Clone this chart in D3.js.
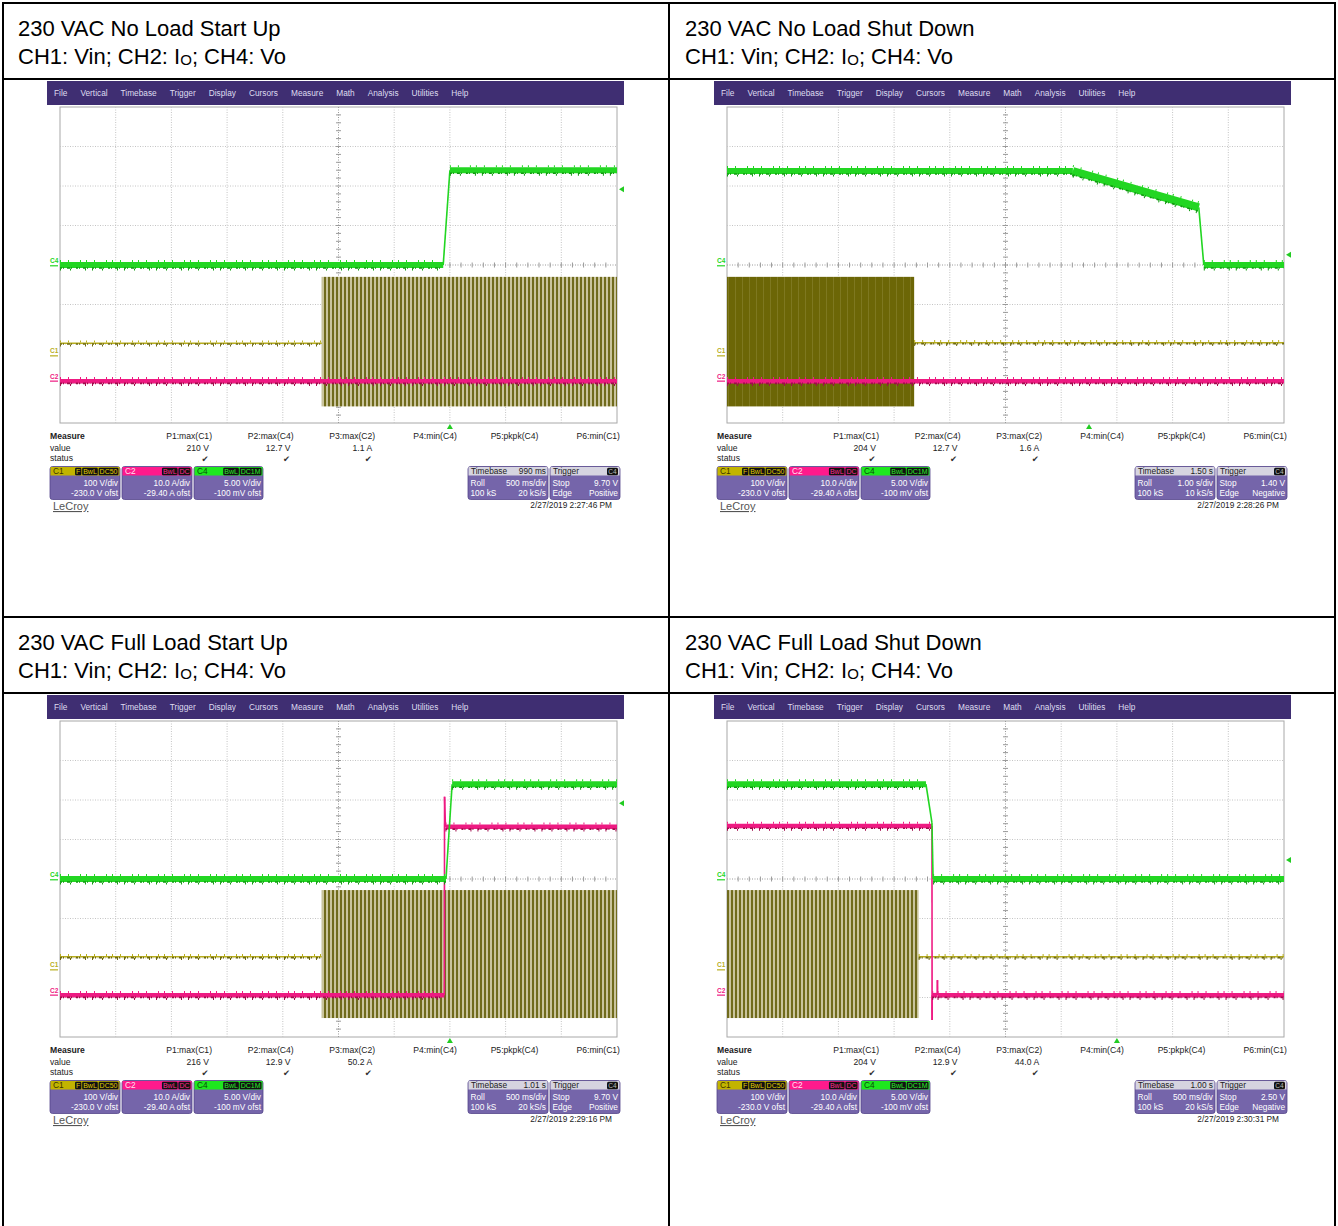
<!DOCTYPE html>
<html>
<head>
<meta charset="utf-8">
<script src="https://cdn.jsdelivr.net/npm/d3@7"></script>
<style>
body { margin:0; background:#fff; }
svg { display:block; font-family:"Liberation Sans", Arial, sans-serif; }
</style>
</head>
<body>
<svg id="chart" width="1338" height="1226"></svg>
<script>
// ---- data read from the four scope shots ----
var titles = ["230 VAC No Load Start Up", "230 VAC No Load Shut Down",
              "230 VAC Full Load Start Up", "230 VAC Full Load Shut Down"];
var menuItems = ["File","Vertical","Timebase","Trigger","Display","Cursors","Measure","Math","Analysis","Utilities","Help"];

var timeDiv = [0.5, 1.0, 0.5, 0.5];           // s/div
var chName = ["C1","C2","C4"];
var chVdiv = [100, 10, 5];
var chOfst = [-230, -29.4, -0.1];
var chDivText = ["100 V/div","10.0 A/div","5.00 V/div"];
var chOfstText = ["-230.0 V ofst","-29.40 A ofst","-100 mV ofst"];
var chTags = [["F","BwL","DC50"],["BwL","DC"],["BwL","DC1M"]];

// C4 output voltage (s, V)
var c4Time = [[0, 3.44, 3.50, 5.0], [0, 6.21, 8.47, 8.56, 10], [0, 3.465, 3.52, 5.0], [0, 1.786, 1.84, 1.85, 5.0]];
var c4Volt = [[0.1, 0.1, 12.1, 12.1], [12.0, 12.0, 7.4, 0.1, 0.1], [0.1, 0.1, 12.1, 12.1], [12.1, 12.1, 7.2, 0.1, 0.1]];
// C2 output current (s, A)
var c2Time = [[0, 5.0], [0, 10], [0, 3.45, 3.452, 3.46, 5.0], [0, 1.84, 1.841, 1.842, 1.888, 1.889, 1.89, 5.0]];
var c2Amp  = [[0, 0], [0, 0], [0, 0, 50.2, 42.6, 42.6], [42.8, 42.8, -6.3, 0, 0, 3.8, 0, 0]];
// C1 input voltage: flat part (s, V) and AC burst envelope
var c1Time = [[0, 2.35], [3.36, 10], [0, 2.35], [1.72, 5.0]];
var c1Volt = [[32, 32], [33, 33], [33, 33], [33, 33]];
var burstStart = [2.35, 0, 2.35, 0];
var burstEnd   = [5.0, 3.36, 5.0, 1.72];
var burstMax   = [200, 200, 202, 202];
var burstMin   = [-128, -128, -122, -122];

var measNames = ["P1:max(C1)","P2:max(C4)","P3:max(C2)","P4:min(C4)","P5:pkpk(C4)","P6:min(C1)"];
var measP1 = ["210 V","204 V","216 V","204 V"];
var measP2 = ["12.7 V","12.7 V","12.9 V","12.9 V"];
var measP3 = ["1.1 A","1.6 A","50.2 A","44.0 A"];

var tbDelay = ["990 ms","1.50 s","1.01 s","1.00 s"];
var tbDivText = ["500 ms/div","1.00 s/div","500 ms/div","500 ms/div"];
var tbRate = ["20 kS/s","10 kS/s","20 kS/s","20 kS/s"];
var trigLevel = [9.70, 1.40, 9.70, 2.50];
var trigLevelText = ["9.70 V","1.40 V","9.70 V","2.50 V"];
var trigSlope = ["Positive","Negative","Positive","Negative"];
var trigTime = [3.5, 6.5, 3.5, 3.5];
var stamps = ["2/27/2019 2:27:46 PM","2/27/2019 2:28:26 PM","2/27/2019 2:29:16 PM","2/27/2019 2:30:31 PM"];

// ---- layout ----
var svg = d3.select("#chart");
var colW = 667, rowH = 614;
var gx0 = 60, gx1 = 617, gy0 = 107, gy1 = 423;
var chColor = ["#b8ae1e", "#ee1a82", "#22d622"];
var chDark = ["#6e6a10", "#a00c4c", "#0f9a0f"];
var chHead = ["#c2b400", "#ff1a8c", "#1ee81e"];

var defs = svg.append("defs");
var pat = defs.append("pattern").attr("id","stripes").attr("patternUnits","userSpaceOnUse")
    .attr("width",4).attr("height",12);
pat.append("rect").attr("width",4).attr("height",12).attr("fill","#c9c49c");
pat.append("rect").attr("width",2).attr("height",12).attr("fill","#706b1c");
var pat2 = defs.append("pattern").attr("id","dense").attr("patternUnits","userSpaceOnUse")
    .attr("width",7).attr("height",12);
pat2.append("rect").attr("width",7).attr("height",12).attr("fill","#6c6606");
pat2.append("rect").attr("x",5).attr("width",0.6).attr("height",12).attr("fill","#8a8430");

// table
var tbl = svg.append("g").attr("stroke","#000").attr("stroke-width",2);
[3, 669, 1335].forEach(function(x){ tbl.append("line").attr("x1",x).attr("x2",x).attr("y1",2).attr("y2",1226); });
[3, 79, 617, 693].forEach(function(y){ tbl.append("line").attr("x1",2).attr("x2",1336).attr("y1",y).attr("y2",y); });

titles.forEach(function(title, i){
  var ox = (i % 2) * colW, oy = Math.floor(i / 2) * rowH;
  var g = svg.append("g").attr("transform", `translate(${ox},${oy})`);

  g.append("text").attr("x",18).attr("y",36).attr("font-size",22).text(title);
  var sub = g.append("text").attr("x",18).attr("y",64).attr("font-size",22);
  sub.append("tspan").text("CH1: Vin; CH2: I");
  sub.append("tspan").attr("font-size",15).attr("dy",1).text("O");
  sub.append("tspan").attr("dy",-1).text("; CH4: Vo");

  // menu bar
  g.append("rect").attr("x",47).attr("y",81).attr("width",577).attr("height",24).attr("fill","#3f2e72");
  var mx = 54;
  menuItems.forEach(function(m){
    var t = g.append("text").attr("x",mx).attr("y",96).attr("font-size",8.3).attr("fill","#dedcf0").text(m);
    mx += t.node().getComputedTextLength() + 13;
  });

  // scales
  var x = d3.scaleLinear().domain([0, 10 * timeDiv[i]]).range([gx0, gx1]);
  var ys = chVdiv.map(function(vd, k){
    return d3.scaleLinear().domain([-4 * vd - chOfst[k], 4 * vd - chOfst[k]]).range([gy1, gy0]);
  });
  var yDiv = d3.scaleLinear().domain([0, 8]).range([gy0, gy1]);

  // grid
  var grid = g.append("g");
  grid.append("rect").attr("x",gx0).attr("y",gy0).attr("width",gx1-gx0).attr("height",gy1-gy0)
      .attr("fill","#fff").attr("stroke","#a8a8a8");
  d3.range(1,10).forEach(function(k){
    var xx = gx0 + k * (gx1 - gx0) / 10;
    grid.append("line").attr("x1",xx).attr("x2",xx).attr("y1",gy0).attr("y2",gy1)
      .attr("stroke", k == 5 ? "#9a9a9a" : "#c4c4c4").attr("stroke-dasharray","1,1.5");
  });
  d3.range(1,8).forEach(function(k){
    grid.append("line").attr("x1",gx0).attr("x2",gx1).attr("y1",yDiv(k)).attr("y2",yDiv(k))
      .attr("stroke", k == 4 ? "#9a9a9a" : "#c4c4c4").attr("stroke-dasharray","1,1.5");
  });
  var cx = (gx0 + gx1) / 2, cy = yDiv(4);
  d3.range(1,50).forEach(function(k){
    var xx = gx0 + k * (gx1 - gx0) / 50;
    grid.append("line").attr("x1",xx).attr("x2",xx).attr("y1",cy-2.5).attr("y2",cy+2.5).attr("stroke","#9a9a9a");
  });
  d3.range(1,40).forEach(function(k){
    var yy = gy0 + k * (gy1 - gy0) / 40;
    grid.append("line").attr("x1",cx-2.5).attr("x2",cx+2.5).attr("y1",yy).attr("y2",yy).attr("stroke","#9a9a9a");
  });

  var clipId = "clip" + i;
  defs.append("clipPath").attr("id",clipId).append("rect")
    .attr("x",ox+gx0).attr("y",oy+gy0-4).attr("width",gx1-gx0).attr("height",gy1-gy0+8);
  var tr = svg.append("g").attr("clip-path",`url(#${clipId})`).append("g").attr("transform",`translate(${ox},${oy})`);

  // C1 burst
  tr.append("rect").attr("x",x(burstStart[i])).attr("width",x(burstEnd[i]) - x(burstStart[i]))
    .attr("y",ys[0](burstMax[i])).attr("height",ys[0](burstMin[i]) - ys[0](burstMax[i]))
    .attr("fill", timeDiv[i] >= 1 ? "url(#dense)" : "url(#stripes)");

  function trace(ts, vs, y, k, bw){
    for (var j = 0; j < ts.length - 1; j++){
      var x1 = x(ts[j]), x2 = x(ts[j+1]), y1 = y(vs[j]), y2 = y(vs[j+1]);
      if (Math.abs(y2 - y1) > 2 * Math.abs(x2 - x1)){
        tr.append("line").attr("x1",x1).attr("x2",x2).attr("y1",y1).attr("y2",y2)
          .attr("stroke",chColor[k]).attr("stroke-width",1.6);
      } else {
        var w = bw + (Math.abs(y2 - y1) > 3 ? 2 : 0);
        tr.append("line").attr("x1",x1).attr("x2",x2).attr("y1",y1).attr("y2",y2)
          .attr("stroke",chColor[k]).attr("stroke-width",w);
        tr.append("line").attr("x1",x1).attr("x2",x2).attr("y1",y1+w/2).attr("y2",y2+w/2)
          .attr("stroke",chDark[k]).attr("stroke-width",1.6).attr("stroke-dasharray","2,1,1,3,3,1,1,4");
        tr.append("line").attr("x1",x1).attr("x2",x2).attr("y1",y1+w/2+1.5).attr("y2",y2+w/2+1.5)
          .attr("stroke",chDark[k]).attr("stroke-width",2).attr("stroke-dasharray","1,9,1,14,1,6");
        tr.append("line").attr("x1",x1).attr("x2",x2).attr("y1",y1-w/2-1).attr("y2",y2-w/2-1)
          .attr("stroke",chColor[k]).attr("stroke-width",2).attr("stroke-dasharray","1,7,1,11,1,5");
      }
    }
  }
  trace(c1Time[i], c1Volt[i], ys[0], 0, 1.6);
  trace(c2Time[i], c2Amp[i], ys[1], 1, 4.5);
  trace(c4Time[i], c4Volt[i], ys[2], 2, 6);

  // channel ground labels
  [0,1,2].forEach(function(k){
    var y0 = ys[k](0);
    g.append("text").attr("x",50).attr("y",y0-2.5).attr("font-size",6.5).attr("font-weight","bold")
      .attr("fill",chColor[k]).text(chName[k]);
    g.append("line").attr("x1",50).attr("x2",58).attr("y1",y0).attr("y2",y0).attr("stroke",chColor[k]).attr("stroke-width",1.2);
  });
  // trigger markers
  var ty = ys[2](trigLevel[i]);
  g.append("path").attr("d",`M${gx1+2},${ty} l5,-3 l0,6 z`).attr("fill","#22cc22");
  var tx = x(trigTime[i]);
  g.append("path").attr("d",`M${tx},${gy1+1} l-3,5 l6,0 z`).attr("fill","#22cc22");

  // measure table
  var mt = g.append("g").attr("font-size",8.6).attr("fill","#222");
  mt.append("text").attr("x",50).attr("y",439).attr("font-weight","bold").text("Measure");
  mt.append("text").attr("x",50).attr("y",451).text("value");
  mt.append("text").attr("x",50).attr("y",461).text("status");
  var vals = [measP1[i], measP2[i], measP3[i]];
  measNames.forEach(function(n, k){
    var rx = 212 + k * 81.6;
    mt.append("text").attr("x",rx).attr("y",439).attr("text-anchor","end").text(n);
    if (k < 3){
      mt.append("text").attr("x",rx-3).attr("y",451).attr("text-anchor","end").text(vals[k]);
      mt.append("text").attr("x",rx-7).attr("y",462).attr("text-anchor","middle")
        .attr("font-family","DejaVu Sans").attr("font-size",8.5).attr("fill","#333").text("\u2714");
    }
  });

  function box(bx, bw, head, headText, headFill, right, rows){
    var b = g.append("g");
    b.append("rect").attr("x",bx).attr("y",466.5).attr("width",bw).attr("height",33).attr("rx",2.5)
      .attr("fill","#7565aa").attr("stroke","#54458a").attr("stroke-width",0.8);
    b.append("rect").attr("x",bx+0.5).attr("y",467).attr("width",bw-1).attr("height",8.5).attr("fill",head);
    b.append("text").attr("x",bx+3).attr("y",474.3).attr("font-size",8.3).attr("fill",headFill).text(headText);
    right(b);
    rows.forEach(function(r, k){
      var yy = 485.5 + k * 10.5;
      if (r[0]) b.append("text").attr("x",bx+2.5).attr("y",yy).attr("font-size",8.3).attr("fill","#fff").text(r[0]);
      b.append("text").attr("x",bx+bw-2).attr("y",yy).attr("font-size",8.3).attr("fill","#fff")
        .attr("text-anchor","end").text(r[1]);
    });
  }
  function tags(b, list, endX, fill, bg){
    var ex = endX;
    list.slice().reverse().forEach(function(t){
      var tt = b.append("text").attr("x",ex-1).attr("y",474).attr("font-size",7).attr("text-anchor","end")
        .attr("fill",fill).text(t);
      var w = tt.node().getComputedTextLength() + 2;
      b.insert("rect","text:last-of-type").attr("x",ex-w).attr("y",467.8).attr("width",w).attr("height",7.4)
        .attr("rx",1.2).attr("fill",bg);
      tt.raise();
      ex -= w + 0.8;
    });
  }
  var bxs = [50, 122, 194], bws = [70, 70, 69];
  var headTxt = ["#3d3600", "#ffe0f0", "#0a4a0a"];
  var tagTxt = ["#e0cc00", "#ff2a90", "#2aee2a"];
  [0,1,2].forEach(function(k){
    box(bxs[k], bws[k], chHead[k], chName[k], headTxt[k], function(b){
      tags(b, chTags[k], bxs[k] + bws[k] - 1.5, tagTxt[k], "#111");
    }, [[null, chDivText[k]], [null, chOfstText[k]]]);
  });
  box(468, 80, "#d6d4e0", "Timebase", "#222", function(b){
    b.append("text").attr("x",546).attr("y",474.3).attr("font-size",8.3).attr("text-anchor","end").attr("fill","#222").text(tbDelay[i]);
  }, [["Roll", tbDivText[i]], ["100 kS", tbRate[i]]]);
  box(550, 70, "#d6d4e0", "Trigger", "#222", function(b){
    b.append("rect").attr("x",607).attr("y",467.8).attr("width",11).attr("height",7.4).attr("rx",1.5).attr("fill","#111");
    b.append("text").attr("x",612.5).attr("y",474).attr("font-size",6.5).attr("text-anchor","middle").attr("fill","#bbb").text("C4");
  }, [["Stop", trigLevelText[i]], ["Edge", trigSlope[i]]]);

  g.append("text").attr("x",612).attr("y",507.5).attr("font-size",8.3).attr("text-anchor","end").attr("fill","#222").text(stamps[i]);
  g.append("text").attr("x",53).attr("y",510).attr("font-size",11).attr("fill","#555")
    .attr("text-decoration","underline").text("LeCroy");
});
</script>
</body>
</html>
